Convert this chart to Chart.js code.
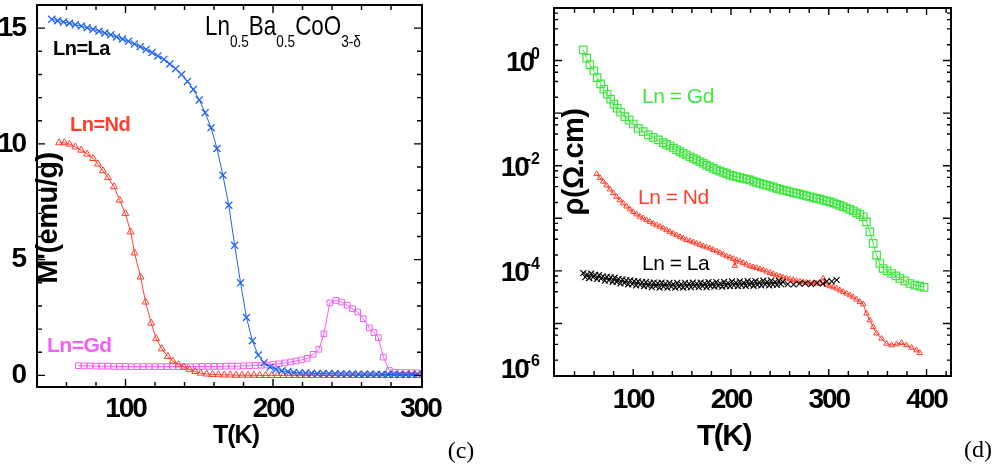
<!DOCTYPE html>
<html>
<head>
<meta charset="utf-8">
<script src="https://cdn.jsdelivr.net/npm/chart.js@4.4.1/dist/chart.umd.min.js"></script>
<style>
  html, body { margin: 0; padding: 0; background: #fff; }
  #wrap { position: relative; width: 999px; height: 467px; overflow: hidden; }
  .panel { position: absolute; top: 0; height: 467px; }
  #pc { left: 0; width: 490px; }
  #pd { left: 490px; width: 509px; }
</style>
</head>
<body>
<div id="wrap">
  <div class="panel" id="pc"><canvas id="cm" width="490" height="467"></canvas></div>
  <div class="panel" id="pd"><canvas id="cr" width="509" height="467"></canvas></div>
</div>
<script>
const FONT = "'Liberation Sans', Arial, Helvetica, sans-serif";
const SERIF = "'Liberation Serif', 'Times New Roman', serif";

/* ---------- panel (c): magnetisation M'(T) ---------- */
const tLaM = [50,54,58,62,66,70,74,78,82,86,90,94,98,102,106,110,114,118,122,126,130,134,138,142,146,150,154,158,162,166,170,174,178,182,186,190,194,198,202,206,210,214,218,222,226,230,234,238,242,246,250,254,258,262,266,270,274,278,282,286,290,294,298];
const mLa  = [15.38,15.32,15.27,15.21,15.15,15.09,15.02,14.95,14.87,14.79,14.71,14.62,14.53,14.43,14.32,14.2,14.08,13.95,13.8,13.65,13.45,13.25,13.0,12.7,12.35,11.9,11.35,10.7,9.8,8.65,7.35,5.62,4.0,2.5,1.5,0.88,0.55,0.36,0.26,0.2,0.16,0.13,0.11,0.1,0.09,0.08,0.08,0.07,0.07,0.06,0.06,0.06,0.05,0.05,0.05,0.05,0.04,0.04,0.04,0.04,0.04,0.04,0.04];

const tNdM = [55,58.6,62,66,70,74,78,81.3,84.7,88.1,92.2,96,99.9,103.5,106.1,110.2,113.6,117.4,120.8,124.6,128.7,132.1,136,139.6,143.4,147.3,151,155,159,163,167,171,175,179,183,187,191,195,199,203,207,211,215,219,223,227,231,235,239,243,247,251,255,259,263,267,271,275,279,283,287,291,295,299];
const mNd  = [10.05,10.05,9.99,9.87,9.73,9.56,9.37,9.13,8.84,8.55,8.15,7.57,6.99,6.2,5.29,4.25,3.17,2.26,1.59,1.15,0.82,0.62,0.46,0.36,0.25,0.17,0.1,0.06,0.04,0.03,0.02,0.02,0.01,0.01,0.01,0.01,0,0,0,0,0,0,0,0,0,0,0,0,0,0,0,0,0,0,0,0,0,0,0,0,0,0,0,0];

const tGdM = [68,72,76,80,84,88,92,96,100,104,108,112,116,120,124,128,132,136,140,144,148,152,156,160,164,168,172,176,180,184,188,192,196,200,204,208,212,215.5,219.3,223.2,227.2,231.1,234.5,238.5,242.6,246.5,250.3,253.9,257.4,261.2,265.3,268.4,271.4,274.8,278.9,282.7,286.5,290.4,294.2,298];
const mGd  = [0.42,0.41,0.41,0.4,0.4,0.4,0.39,0.39,0.39,0.38,0.38,0.38,0.38,0.38,0.38,0.38,0.38,0.38,0.38,0.38,0.38,0.39,0.39,0.39,0.39,0.4,0.4,0.4,0.41,0.42,0.43,0.44,0.45,0.47,0.5,0.54,0.58,0.62,0.67,0.74,0.91,1.13,1.8,3.13,3.24,3.17,3.03,2.88,2.74,2.45,2.05,1.85,1.63,0.79,0.21,0.14,0.13,0.12,0.12,0.11];

const mTicksX = [100, 200, 300];
const mTicksY = [0, 5, 10, 15];

/* ---------- panel (d): resistivity rho(T) ---------- */
const tGdR = [48.9,52.4,55.7,59.8,63.2,66.7,70,73.4,76.9,80.3,83.6,87.1,91.5,95.9,100,105.1,110.2,115.3,120.4,125.6,
  130.7,134,137.5,141,144.4,147.8,151.1,154.5,158,161.4,164.8,168.2,171.6,175,178.4,181.8,185.3,188.6,192,195.5,
  198.9,202.3,205.7,209.1,212.5,215.9,219.3,222.7,226.2,229.6,233,236.4,239.8,243.2,246.6,250,253.4,256.8,260.2,263.6,
  267.1,270.5,273.8,277.2,280.7,284.1,287.5,290.9,294.3,297.7,301.1,304.5,308,311.3,314.7,318.1,321.6,325,328.4,331.8,
  335.2,338.6,342,345.4,348.9,352.2,355.6,359.7,364.2,368.6,372.7,377.8,382.9,388,393.1,397.5];
const rGd  = [1.6,1.11,0.83,0.64,0.475,0.36,0.285,0.229,0.184,0.148,0.124,0.104,0.086,0.074,0.0622,0.0515,0.0445,0.0385,0.0347,0.0309,
  0.0274,0.0254,0.0237,0.0217,0.0200,0.0185,0.0172,0.0160,0.0148,0.0138,0.0129,0.0120,0.0111,0.0103,0.00957,0.00891,0.00832,0.00789,0.00748,0.00705,
  0.00665,0.00640,0.00617,0.00596,0.00575,0.00556,0.00537,0.00509,0.00483,0.00462,0.00443,0.00427,0.00410,0.00391,0.00372,0.00357,0.00344,0.00332,0.00320,0.00309,
  0.00298,0.00287,0.00277,0.00267,0.00257,0.00248,0.00240,0.00231,0.00222,0.00214,0.00206,0.00197,0.00186,0.00176,0.00166,0.00157,0.00148,0.00138,0.00127,0.00117,
  0.00107,0.000857,0.000553,0.000333,0.000200,0.000138,0.000111,0.000100,0.0000891,0.0000804,0.0000716,0.0000646,0.0000575,0.0000535,0.0000513,0.0000483];

const tNdR = [62.6,66,69.3,72.7,76.2,79.6,83,86.4,89.8,93.2,96.6,100,103.5,106.9,110.2,113.6,117.1,120.5,123.9,127.3,
  130.7,134.1,137.5,141,144.4,147.8,151.1,154.5,158,161.4,164.8,168.2,171.6,175,178.4,181.8,185.3,188.6,192,195.5,
  198.9,202.3,204,205.7,209.1,212.5,215.9,219.3,222.7,226.2,229.6,233,236.4,239.8,243.2,246.6,250,253.4,256.8,260.2,
  263.6,267.1,270.5,273.8,277.2,280.7,284.1,287.5,291,294.3,297.7,301.1,304.5,308,311.3,314.7,318.1,321.6,325,328.4,
  331.8,335.2,338.6,342,345.4,348.9,354,359.1,364.2,369.3,374.4,379.5,384.6,389.7,393.1];
const rNd  = [0.00695,0.00589,0.00501,0.00422,0.00355,0.00302,0.00257,0.00221,0.00192,0.00168,0.00148,0.00132,0.00119,0.00108,0.00100,0.000927,0.000857,0.000794,0.000741,0.000692,
  0.000646,0.000597,0.000553,0.000513,0.000479,0.000445,0.000414,0.000389,0.000368,0.000350,0.000333,0.000313,0.000295,0.000281,0.000267,0.000251,0.000237,0.000221,0.000205,0.000191,
  0.000180,0.000170,0.000125,0.000160,0.000151,0.000142,0.000132,0.000123,0.000118,0.000114,0.000108,0.000103,0.0000973,0.0000916,0.0000871,0.0000828,0.0000787,0.0000748,0.0000721,0.0000695,
  0.0000670,0.0000646,0.0000627,0.0000610,0.0000600,0.0000592,0.0000583,0.0000575,0.0000596,0.0000716,0.0000550,0.0000513,0.0000490,0.0000462,0.0000429,0.0000398,0.0000372,0.0000344,0.0000316,0.0000285,
  0.0000257,0.0000232,0.0000155,0.0000115,0.00000857,0.00000646,0.00000515,0.00000414,0.00000385,0.00000402,0.00000427,0.00000385,0.00000347,0.00000309,0.00000275];

const tLaR = [49,51,53,55,57,59,61,63,65,67,69,71,73,75,77,79,81,83,85,87,89,91,93,95,97,99,101,103,105,107,
  109,111,113,115,117,119,121,123,125,127,129,131,133,135,137,139,141,143,145,147,149,151,153,155,157,159,161,163,165,167,
  169,171,173,175,177,179,181,183,185,187,189,191,193,195,197,199,201,203,205,207,209,211,213,215,217,219,221,223,225,227,
  229,231,233,235,237,239,241,243,245,247,249,251,253,
  258,264,270,276,282,288,294,298,303,308];
const rLa  = [9.1e-5,7.6e-5,8.6e-5,7.3e-5,8.9e-5,7.6e-5,8.4e-5,7.0e-5,8.3e-5,7.1e-5,7.9e-5,6.5e-5,7.7e-5,6.6e-5,7.5e-5,6.2e-5,7.4e-5,6.2e-5,7.0e-5,5.8e-5,
  6.9e-5,5.9e-5,6.6e-5,5.5e-5,6.6e-5,5.6e-5,6.4e-5,5.3e-5,6.3e-5,5.4e-5,6.1e-5,5.1e-5,6.1e-5,5.2e-5,5.9e-5,4.9e-5,6.0e-5,5.1e-5,5.8e-5,4.8e-5,
  6.0e-5,5.0e-5,5.7e-5,4.8e-5,5.9e-5,5.0e-5,5.6e-5,4.8e-5,5.9e-5,5.0e-5,5.6e-5,4.8e-5,5.9e-5,5.0e-5,5.7e-5,4.9e-5,6.0e-5,5.1e-5,5.7e-5,4.9e-5,
  6.0e-5,5.1e-5,5.8e-5,4.9e-5,6.1e-5,5.1e-5,5.8e-5,5.0e-5,6.1e-5,5.2e-5,5.8e-5,5.0e-5,6.2e-5,5.2e-5,5.9e-5,5.1e-5,6.3e-5,5.3e-5,6.0e-5,5.1e-5,
  6.3e-5,5.3e-5,6.0e-5,5.2e-5,6.4e-5,5.4e-5,6.1e-5,5.2e-5,6.4e-5,5.4e-5,6.1e-5,5.3e-5,6.5e-5,5.5e-5,6.2e-5,5.3e-5,6.5e-5,5.5e-5,6.2e-5,5.4e-5,
  6.5e-5,5.6e-5,6.2e-5,
  5.6e-5,5.5e-5,5.7e-5,5.8e-5,5.6e-5,5.9e-5,5.7e-5,6.3e-5,6.3e-5,6.7e-5];

const rTicksX = [100, 200, 300, 400];
const rTicksY = [1e-6, 1e-4, 1e-2, 1];
const rTickExp = ['-6', '-4', '-2', '0'];

/* ---------- colours ---------- */
const BLUE = '#1e63ea', RED = '#ff3f2e', MAGENTA = '#f35ef3', GREEN = '#3fe63f', BLACK = '#000';

function pts(xs, ys) { return xs.map((x, i) => ({ x, y: ys[i] })); }

// fixed axis thickness and no label overhang padding
function fixX(h) { return s => { s.height = h; s.paddingLeft = 0; s.paddingRight = 0; s.paddingTop = 0; s.paddingBottom = 0; }; }
function fixY(w) { return s => { s.width = w; s.paddingLeft = 0; s.paddingRight = 0; s.paddingTop = 0; s.paddingBottom = 0; }; }

function txt(ctx, s, x, y, font, color, align, base, ls) {
  ctx.font = font;
  ctx.fillStyle = color;
  ctx.textAlign = align || 'left';
  ctx.textBaseline = base || 'middle';
  ctx.letterSpacing = ls || '0px';
  ctx.fillText(s, x, y);
}

function vtxt(ctx, s, cx, cy, font, color) {
  ctx.save();
  ctx.translate(cx, cy);
  ctx.rotate(-Math.PI / 2);
  txt(ctx, s, 0, 0, font, color, 'center', 'middle', '-0.5px');
  ctx.restore();
}

// box frame with inward tick marks on all four sides
function drawFrame(chart, xt, yt) {
  const { ctx, chartArea: a } = chart;
  const sx = chart.scales.x, sy = chart.scales.y;
  ctx.save();
  ctx.strokeStyle = '#000';
  ctx.lineWidth = 1.4;
  ctx.beginPath();
  for (const t of xt) {
    const p = sx.getPixelForValue(t.v);
    if (p < a.left + 2 || p > a.right - 2) continue;
    ctx.moveTo(p, a.bottom); ctx.lineTo(p, a.bottom - t.len);
    ctx.moveTo(p, a.top); ctx.lineTo(p, a.top + t.len);
  }
  for (const t of yt) {
    const p = sy.getPixelForValue(t.v);
    if (p < a.top + 2 || p > a.bottom - 2) continue;
    ctx.moveTo(a.left, p); ctx.lineTo(a.left + t.len, p);
    ctx.moveTo(a.right, p); ctx.lineTo(a.right - t.len, p);
  }
  ctx.stroke();
  ctx.lineWidth = 2;
  ctx.strokeRect(a.left, a.top, a.right - a.left, a.bottom - a.top);
  ctx.restore();
}

const tickFont = { family: FONT, size: 28, weight: 'bold' };

/* ---------- chart (c) ---------- */
const decorC = {
  id: 'decorC',
  beforeDraw(chart) { chart.ctx.letterSpacing = '-2px'; },
  afterDraw(chart) {
    const ctx = chart.ctx;
    const xt = [], yt = [];
    for (let v = 40; v <= 300; v += 20) xt.push({ v, len: v % 100 === 0 ? 8 : 5 });
    for (let v = 0; v <= 16; v += 1) yt.push({ v, len: v % 5 === 0 ? 8 : 5 });
    drawFrame(chart, xt, yt);

    // compound formula with subscripts
    const parts = [['Ln', 0], ['0.5', 1], ['Ba', 0], ['0.5', 1], ['CoO', 0], ['3-\u03b4', 1]];
    ctx.save();
    ctx.translate(205, 0);
    ctx.scale(0.8, 1);
    let x = 0;
    for (const [s, sub] of parts) {
      const f = sub ? `17px ${FONT}` : `28px ${FONT}`;
      txt(ctx, s, x, sub ? 47 : 35, f, '#000', 'left', 'alphabetic', '0px');
      x += ctx.measureText(s).width;
    }
    ctx.restore();

    txt(ctx, 'Ln=La', 53, 49, `bold 20px ${FONT}`, BLACK, 'left', 'middle', '-0.5px');
    txt(ctx, 'Ln=Nd', 70, 125, `bold 20px ${FONT}`, RED, 'left', 'middle', '-0.5px');
    txt(ctx, 'Ln=Gd', 47, 346, `bold 21px ${FONT}`, MAGENTA, 'left', 'middle', '-0.5px');

    vtxt(ctx, "M'(emu/g)", 49, 218, `bold 29px ${FONT}`, '#000');
    txt(ctx, 'T(K)', 236, 436, `bold 25px ${FONT}`, '#000', 'center', 'middle', '-1px');
    txt(ctx, '(c)', 461, 452, `24px ${SERIF}`, '#000', 'center', 'middle', '0px');
  }
};

new Chart(document.getElementById('cm'), {
  type: 'scatter',
  data: {
    datasets: [
      { label: 'Ln=La', data: pts(tLaM, mLa), showLine: true, borderColor: BLUE, backgroundColor: BLUE,
        borderWidth: 1, pointStyle: 'crossRot', pointRadius: 5, pointBorderWidth: 1.3, pointBorderColor: BLUE },
      { label: 'Ln=Nd', data: pts(tNdM, mNd), showLine: true, borderColor: RED, backgroundColor: 'rgba(0,0,0,0)',
        borderWidth: 1, pointStyle: 'triangle', pointRadius: 4, pointBorderWidth: 1, pointBorderColor: RED },
      { label: 'Ln=Gd', data: pts(tGdM, mGd), showLine: true, borderColor: MAGENTA, backgroundColor: 'rgba(0,0,0,0)',
        borderWidth: 1, pointStyle: 'rect', pointRadius: 4, pointBorderWidth: 1, pointBorderColor: MAGENTA }
    ]
  },
  options: {
    responsive: false, animation: false, devicePixelRatio: 1, events: [],
    layout: { autoPadding: false, padding: { left: 0, top: 5, right: 68, bottom: 0 } },
    plugins: { legend: { display: false }, tooltip: { enabled: false } },
    scales: {
      x: {
        type: 'linear', min: 40, max: 301,
        afterBuildTicks: s => { s.ticks = mTicksX.map(v => ({ value: v })); },
        afterFit: fixX(80),
        grid: { display: false }, border: { display: false },
        ticks: { font: tickFont, color: '#000', padding: -3, maxRotation: 0, autoSkip: false }
      },
      y: {
        type: 'linear', min: -0.5, max: 16,
        afterBuildTicks: s => { s.ticks = mTicksY.map(v => ({ value: v })); },
        afterFit: fixY(37),
        grid: { display: false }, border: { display: false },
        ticks: { font: tickFont, color: '#000', padding: 4, autoSkip: false }
      }
    }
  },
  plugins: [decorC]
});

/* ---------- chart (d) ---------- */
const decorD = {
  id: 'decorD',
  beforeDraw(chart) { chart.ctx.letterSpacing = '-2px'; },
  afterDraw(chart) {
    const ctx = chart.ctx, a = chart.chartArea, sy = chart.scales.y;
    const xt = [], yt = [];
    for (let v = 20; v <= 420; v += 20) xt.push({ v, len: v % 100 === 0 ? 7 : 5 });
    for (let e = -6; e <= 1; e++) {
      yt.push({ v: Math.pow(10, e), len: 8 });
      if (e < 1) for (const m of [2, 4, 6, 8]) yt.push({ v: m * Math.pow(10, e), len: 4 });
    }
    drawFrame(chart, xt, yt);

    // log axis labels written as 10 with a raised exponent
    rTicksY.forEach((v, i) => {
      let yc = sy.getPixelForValue(v);
      yc = Math.min(yc, a.bottom + 2 - 10);
      const xr = a.left - 14;
      ctx.font = `bold 16px ${FONT}`;
      ctx.letterSpacing = '0px';
      const sw = ctx.measureText(rTickExp[i]).width;
      txt(ctx, rTickExp[i], xr, yc - 2, `bold 16px ${FONT}`, '#000', 'right', 'alphabetic', '0px');
      txt(ctx, '10', xr - sw + 2, yc + 10, `bold 28px ${FONT}`, '#000', 'right', 'alphabetic', '-2px');
    });

    txt(ctx, 'Ln = Gd', 152, 97, `21px ${FONT}`, GREEN, 'left', 'middle', '-0.5px');
    txt(ctx, 'Ln = Nd', 148, 198, `21px ${FONT}`, RED, 'left', 'middle', '-0.5px');
    txt(ctx, 'Ln = La', 152, 264, `21px ${FONT}`, BLACK, 'left', 'middle', '-0.5px');

    vtxt(ctx, '\u03c1(\u03a9.cm)', 85, 162, `bold 29px ${FONT}`, '#000');
    txt(ctx, 'T(K)', 234, 437, `bold 30px ${FONT}`, '#000', 'center', 'middle', '-1.5px');
    txt(ctx, '(d)', 488, 451, `24px ${SERIF}`, '#000', 'center', 'middle', '0px');
  }
};

new Chart(document.getElementById('cr'), {
  type: 'scatter',
  data: {
    datasets: [
      { label: 'Ln=La', data: pts(tLaR, rLa), showLine: false, borderColor: BLACK, backgroundColor: BLACK,
        pointStyle: 'crossRot', pointRadius: 4.2, pointBorderWidth: 1.1, pointBorderColor: BLACK },
      { label: 'Ln=Nd', data: pts(tNdR, rNd), showLine: true, borderColor: RED, backgroundColor: 'rgba(0,0,0,0)',
        borderWidth: 1, pointStyle: 'triangle', pointRadius: 3.2, pointBorderWidth: 1, pointBorderColor: RED },
      { label: 'Ln=Gd', data: pts(tGdR, rGd), showLine: true, borderColor: GREEN, backgroundColor: 'rgba(0,0,0,0)',
        borderWidth: 1, pointStyle: 'rect', pointRadius: 5.3, pointBorderWidth: 1.2, pointBorderColor: GREEN }
    ]
  },
  options: {
    responsive: false, animation: false, devicePixelRatio: 1, events: [],
    layout: { autoPadding: false, padding: { left: 0, top: 8, right: 48, bottom: 0 } },
    plugins: { legend: { display: false }, tooltip: { enabled: false } },
    scales: {
      x: {
        type: 'linear', min: 19, max: 425,
        afterBuildTicks: s => { s.ticks = rTicksX.map(v => ({ value: v })); },
        afterFit: fixX(91),
        grid: { display: false }, border: { display: false },
        ticks: { font: tickFont, color: '#000', padding: -1, maxRotation: 0, autoSkip: false }
      },
      y: {
        type: 'logarithmic', min: 1e-6, max: 10,
        afterFit: fixY(64),
        grid: { display: false }, border: { display: false },
        ticks: { display: false }
      }
    }
  },
  plugins: [decorD]
});
</script>
</body>
</html>
